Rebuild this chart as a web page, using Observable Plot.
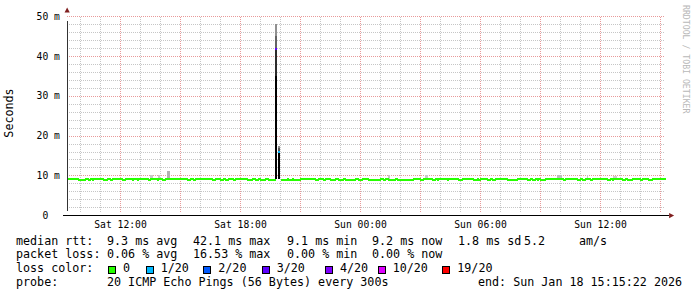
<!DOCTYPE html>
<html><head><meta charset="utf-8">
<script src="https://cdn.jsdelivr.net/npm/d3@7"></script>
<script src="https://cdn.jsdelivr.net/npm/@observablehq/plot@0.6"></script>
<style>
html,body{margin:0;padding:0;background:#fff;}
#wrap{position:relative;width:697px;height:297px;overflow:hidden;font-family:"DejaVu Sans Mono",monospace;color:#000;}
#chart svg{position:absolute;left:0;top:0;}
#chart svg text{fill:#000;}
.lg{position:absolute;font-size:11.7px;line-height:1;white-space:pre;}
.box{position:absolute;width:6px;height:6px;border:1px solid #000;}
#ylab{position:absolute;left:10px;top:113px;font-size:11.7px;line-height:1;white-space:pre;transform:translate(-50%,-50%) rotate(-90deg);}
#wm{position:absolute;left:681px;top:5px;font-size:8.2px;line-height:10px;writing-mode:vertical-rl;color:#b8b8b8;white-space:pre;}
</style></head>
<body><div id="wrap"><div id="chart"></div></div>
<script>
// ---------- data ----------
const dayBase = {Sat: Date.UTC(2026, 0, 17), Sun: Date.UTC(2026, 0, 18)};
const T = s => { const [d, hm] = s.split(" "); const [h, m] = hm.split(":").map(Number); return new Date(dayBase[d] + (h * 60 + m) * 60000); };

const startTime = "Sat 09:20";
const endTime = new Date(Date.UTC(2026, 0, 18, 15, 15, 22));
const baseRtt = 9.21;   // ms, usual median
const dipRtt = 8.96;    // ms, slightly lower median steps

const dips = [
  ["Sat 09:55","Sat 10:15"],["Sat 10:25","Sat 10:30"],["Sat 10:35","Sat 10:40"],["Sat 11:10","Sat 11:20"],
  ["Sat 11:30","Sat 11:35"],["Sat 12:05","Sat 12:15"],["Sat 12:35","Sat 12:40"],["Sat 12:50","Sat 12:55"],
  ["Sat 13:25","Sat 13:30"],["Sat 13:50","Sat 13:55"],["Sat 14:05","Sat 14:15"],["Sat 15:20","Sat 15:30"],
  ["Sat 15:40","Sat 15:45"],["Sat 16:35","Sat 16:45"],["Sat 17:00","Sat 17:10"],["Sat 17:15","Sat 17:25"],
  ["Sat 17:40","Sat 17:45"],["Sat 18:20","Sat 18:35"],["Sat 18:45","Sat 18:55"],["Sat 19:00","Sat 19:15"],
  ["Sat 19:25","Sat 19:45"],["Sat 20:00","Sat 20:20"],["Sat 20:25","Sat 20:35"],["Sat 20:40","Sat 21:00"],
  ["Sat 21:45","Sat 21:55"],["Sat 22:10","Sat 22:15"],["Sat 22:30","Sat 22:45"],["Sat 22:55","Sat 23:10"],
  ["Sat 23:15","Sat 23:45"],["Sat 23:55","Sun 00:05"],["Sun 00:25","Sun 01:00"],["Sun 01:10","Sun 01:15"],
  ["Sun 01:25","Sun 01:45"],["Sun 01:50","Sun 02:40"],["Sun 03:00","Sun 03:10"],["Sun 03:35","Sun 03:45"],
  ["Sun 03:50","Sun 03:55"],["Sun 04:20","Sun 04:25"],["Sun 04:55","Sun 05:05"],["Sun 05:40","Sun 05:50"],
  ["Sun 05:55","Sun 06:00"],["Sun 06:20","Sun 06:30"],["Sun 06:35","Sun 06:45"],["Sun 07:20","Sun 07:50"],
  ["Sun 08:20","Sun 08:30"],["Sun 08:35","Sun 08:45"],["Sun 08:50","Sun 08:55"],["Sun 09:00","Sun 09:15"],
  ["Sun 10:10","Sun 10:15"],["Sun 10:50","Sun 11:00"],["Sun 11:05","Sun 11:15"],["Sun 11:30","Sun 11:35"],
  ["Sun 12:20","Sun 12:30"],["Sun 12:35","Sun 12:40"],["Sun 13:05","Sun 13:15"],["Sun 13:20","Sun 13:35"],
  ["Sun 14:00","Sun 14:05"],["Sun 14:25","Sun 14:35"]
];

// steps with packet loss (median drawn in loss colour)
const lossSteps = [
  {t0: "Sat 19:45", t1: "Sat 19:50", median: 42.0, loss: 3},
  {t0: "Sat 19:55", t1: "Sat 20:00", median: 16.1, loss: 1}
];
const unknownSteps = [["Sat 19:50", "Sat 19:55"]];

// smoke (ping spread): lo, hi in ms, density 0..1
const smoke = [
  {t0: "Sat 13:30", t1: "Sat 13:40", lo: 9.2, hi: 10.2, density: 0.1},
  {t0: "Sat 13:55", t1: "Sat 14:00", lo: 9.2, hi: 10.1, density: 0.1},
  {t0: "Sat 14:20", t1: "Sat 14:30", lo: 9.2, hi: 11.0, density: 0.2},
  {t0: "Sun 01:25", t1: "Sun 01:30", lo: 9.2, hi: 10.2, density: 0.1},
  {t0: "Sun 03:15", t1: "Sun 03:25", lo: 9.2, hi: 10.2, density: 0.1},
  {t0: "Sun 09:50", t1: "Sun 10:05", lo: 9.2, hi: 10.2, density: 0.15},
  {t0: "Sun 11:20", t1: "Sun 11:25", lo: 9.2, hi: 10.1, density: 0.1},
  {t0: "Sun 12:40", t1: "Sun 12:50", lo: 9.2, hi: 9.9, density: 0.08},
  {t0: "Sat 19:45", t1: "Sat 19:50", lo: 45.0, hi: 48.2, density: 0.35},
  {t0: "Sat 19:45", t1: "Sat 19:50", lo: 42.0, hi: 45.0, density: 0.55},
  {t0: "Sat 19:45", t1: "Sat 19:50", lo: 35.0, hi: 42.0, density: 0.8},
  {t0: "Sat 19:45", t1: "Sat 19:50", lo: 9.2, hi: 35.0, density: 1.0},
  {t0: "Sat 19:55", t1: "Sat 20:00", lo: 16.8, hi: 17.5, density: 0.35},
  {t0: "Sat 19:55", t1: "Sat 20:00", lo: 16.1, hi: 16.8, density: 0.6},
  {t0: "Sat 19:55", t1: "Sat 20:00", lo: 9.2, hi: 16.1, density: 1.0}
];

const yTickValues = [0, 10, 20, 30, 40, 50];
const yTickLabels = ["0\u00a0\u00a0", "10 m", "20 m", "30 m", "40 m", "50 m"];
const xTickLabels = ["Sat 12:00", "Sat 18:00", "Sun 00:00", "Sun 06:00", "Sun 12:00"];

const lossLabels = ["0", "1/20", "2/20", "3/20", "4/20", "10/20", "19/20"];
const rttStats = ["9.3 ms avg", "42.1 ms max", "9.1 ms min", "9.2 ms now", "1.8 ms sd", "5.2", "am/s"];
const lossStats = ["0.06 % avg", "16.53 % max", "0.00 % min", "0.00 % now"];
const probeText = "20 ICMP Echo Pings (56 Bytes) every 300s";
const endText = "end: Sun Jan 18 15:15:22 2026";

// ---------- styles ----------
const lossColors = ["#26ff00", "#00b8ff", "#0059ff", "#5e00ff", "#7e00ff", "#dd00ff", "#ff0000"];
const gridMinor = "#c6c6c6", gridMajor = "#e89a9a", axisColor = "#333", arrowColor = "rgb(128,31,31)";

// ---------- build median series ----------
const start = T(startTime), end = endTime;
const special = [
  ...dips.map(([a, b]) => ({t0: T(a), t1: T(b), v: dipRtt})),
  ...lossSteps.map(d => ({t0: T(d.t0), t1: T(d.t1), v: NaN})),
  ...unknownSteps.map(([a, b]) => ({t0: T(a), t1: T(b), v: NaN}))
].sort((a, b) => a.t0 - b.t0);
const intervals = [];
let cur = start;
for (const s of special) {
  if (s.t0 > cur) intervals.push({t0: cur, t1: s.t0, v: baseRtt});
  intervals.push(s);
  cur = s.t1;
}
if (cur < end) intervals.push({t0: cur, t1: end, v: baseRtt});
const pts = [];
intervals.forEach((iv, i) => {
  if (isNaN(iv.v)) { pts.push({t: iv.t0, v: NaN}); return; }
  pts.push({t: iv.t0, v: iv.v});
  const nx = intervals[i + 1];
  if (!nx || isNaN(nx.v)) pts.push({t: iv.t1, v: iv.v});
});

const hours = d3.utcHour.range(T("Sat 10:00"), end);
const xMinor = hours.filter(d => d.getUTCHours() % 3 !== 0);
const xMajor = hours.filter(d => d.getUTCHours() % 3 === 0);
const yMinor = d3.range(2, 50, 2).filter(v => v % 10 !== 0);
const yMajor = [10, 20, 30, 40, 50];

const hx = d => ((d - dayBase.Sat) / 3600000 - 6) * 20; // px per hour = 20
const smokeShade = d3.interpolateRgb("#dedede", "#000000");

const arrowUp = {draw(c) { c.moveTo(0, -9.5); c.lineTo(-2.6, -4.5); c.lineTo(2.6, -4.5); c.closePath(); }};
const arrowRight = {draw(c) { c.moveTo(8.5, 0); c.lineTo(3.5, -2.6); c.lineTo(3.5, 2.6); c.closePath(); }};

const plot = Plot.plot({
  width: 697, height: 232, margin: 0,
  x: {type: "utc", domain: [start, end], range: [hx(start), hx(end)], axis: null},
  y: {domain: [0, 50], range: [215.1, 16.4], axis: null},
  color: {type: "identity"},
  style: {background: "transparent", fontFamily: "DejaVu Sans Mono", fontSize: "9.7px", color: "#000", overflow: "visible"},
  marks: [
    Plot.ruleY(yMinor, {x1: start, x2: end, stroke: gridMinor, strokeDasharray: "1,1", shapeRendering: "crispEdges"}),
    Plot.ruleX(xMinor, {y1: 0, y2: 50, insetTop: -3.5, stroke: gridMinor, strokeDasharray: "1,1", shapeRendering: "crispEdges"}),
    Plot.ruleY(yMajor, {x1: start, x2: end, stroke: gridMajor, strokeDasharray: "1,1", shapeRendering: "crispEdges"}),
    Plot.ruleX(xMajor, {y1: 0, y2: 50, insetTop: -3.5, stroke: gridMajor, strokeDasharray: "1,1", shapeRendering: "crispEdges"}),
    Plot.rect(smoke, {x1: d => T(d.t0), x2: d => T(d.t1), y1: "lo", y2: "hi", fill: d => smokeShade(d.density), shapeRendering: "crispEdges"}),
    Plot.line(pts, {x: "t", y: "v", curve: "step-after", stroke: lossColors[0], strokeWidth: 2, strokeLinecap: "butt", strokeLinejoin: "miter", shapeRendering: "crispEdges"}),
    Plot.ruleY(lossSteps, {x1: d => T(d.t0), x2: d => T(d.t1), y: "median", stroke: d => lossColors[d.loss], strokeWidth: 2, shapeRendering: "crispEdges"}),
    Plot.ruleX([start], {y1: 0, y2: 50, insetTop: -4.5, insetBottom: -4.5, stroke: axisColor, shapeRendering: "crispEdges"}),
    Plot.ruleY([0], {x1: start, x2: end, insetLeft: -4, insetRight: -3.5, stroke: "#000", shapeRendering: "crispEdges"}),
    Plot.dot([0], {x: () => start, y: () => 50, symbol: arrowUp, fill: arrowColor, stroke: "none"}),
    Plot.dot([0], {x: () => end, y: () => 0, symbol: arrowRight, fill: arrowColor, stroke: "none"}),
    Plot.text(yTickValues, {x: () => start, y: d => d, text: (d, i) => yTickLabels[i], textAnchor: "end", dx: -7.2, fill: "black"}),
    Plot.text(xTickLabels, {x: d => T(d), y: () => 0, text: d => d, dy: 9.6, fill: "black"})
  ]
});
const wrap = document.getElementById("wrap");
document.getElementById("chart").appendChild(plot);

// ---------- legend (HTML text) ----------
function put(x, baseline, txt) {
  const s = document.createElement("span");
  s.className = "lg"; s.textContent = txt;
  s.style.left = x + "px"; s.style.top = (baseline - 9.9) + "px";
  wrap.appendChild(s);
}
const cols = [107, 193, 287, 372, 458, 524, 579];
const base = [245.4, 259.3, 273.2, 287.1];
put(16, base[0], "median rtt:");
rttStats.forEach((t, i) => put(cols[i], base[0], t));
put(16, base[1], "packet loss:");
lossStats.forEach((t, i) => put(cols[i], base[1], t));
put(16, base[2], "loss color:");
const boxX = [108, 145.7, 203.3, 261.7, 325, 377.7, 442.3];
lossLabels.forEach((t, i) => {
  const b = document.createElement("div");
  b.className = "box"; b.style.left = boxX[i] + "px"; b.style.top = "266px"; b.style.background = lossColors[i];
  wrap.appendChild(b);
  put(boxX[i] + 15, base[2], t);
});
put(16, base[3], "probe:");
put(107, base[3], probeText);
put(478, base[3], endText);

const yl = document.createElement("div"); yl.id = "ylab"; yl.textContent = "Seconds"; wrap.appendChild(yl);
const wm = document.createElement("div"); wm.id = "wm"; wm.textContent = "RRDTOOL / TOBI OETIKER"; wrap.appendChild(wm);
</script>
</body></html>
